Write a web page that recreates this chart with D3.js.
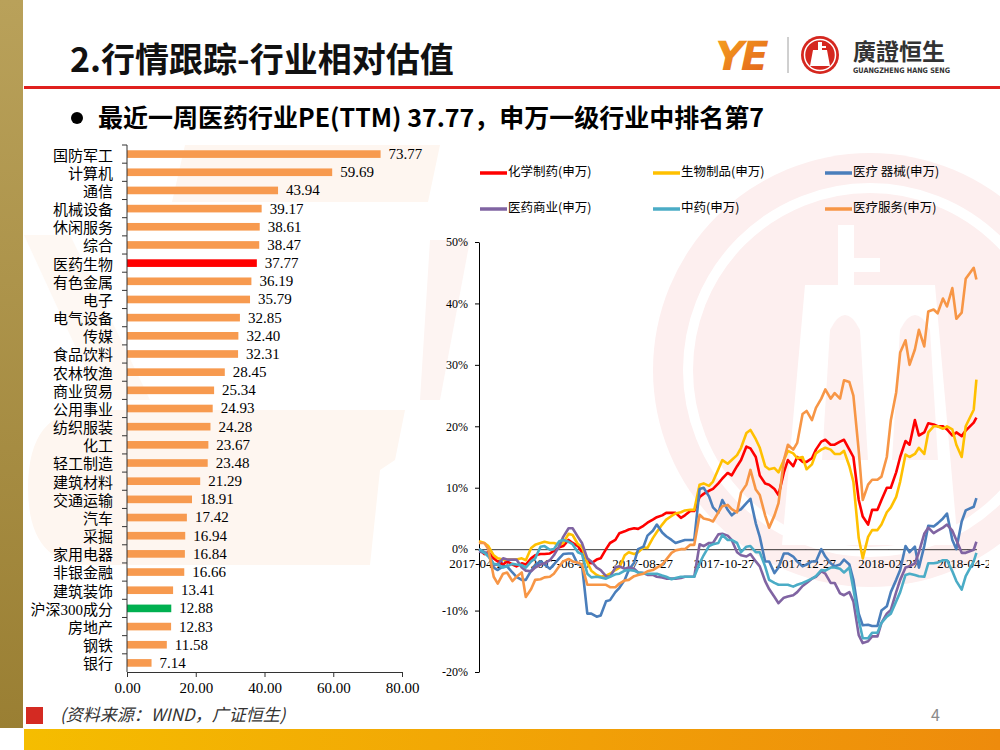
<!DOCTYPE html>
<html>
<head>
<meta charset="utf-8">
<script src="https://cdn.jsdelivr.net/npm/d3@7"></script>
<style>
  body { margin: 0; background: #fff; }
  svg { display: block; }
</style>
</head>
<body>
<div id="slide"></div>
<script>

// ---- bar chart data (PE TTM by industry) ----
var barCats = ["国防军工", "计算机", "通信", "机械设备", "休闲服务", "综合", "医药生物", "有色金属", "电子",
    "电气设备", "传媒", "食品饮料", "农林牧渔", "商业贸易", "公用事业", "纺织服装", "化工", "轻工制造",
    "建筑材料", "交通运输", "汽车", "采掘", "家用电器", "非银金融", "建筑装饰", "沪深300成分", "房地产", "钢铁", "银行"];
var barVals = [73.77, 59.69, 43.94, 39.17, 38.61, 38.47, 37.77, 36.19, 35.79,
    32.85, 32.40, 32.31, 28.45, 25.34, 24.93, 24.28, 23.67, 23.48,
    21.29, 18.91, 17.42, 16.94, 16.84, 16.66, 13.41, 12.88, 12.83, 11.58, 7.14];
var barTicks = [0, 20, 40, 60, 80];

// ---- line chart data (relative return, %) ----
var lineDates = ["2017-04-27", "2017-05-01", "2017-05-04", "2017-05-08", "2017-05-11", "2017-05-15", "2017-05-18",
    "2017-05-22", "2017-05-25", "2017-05-29", "2017-06-01", "2017-06-05", "2017-06-08", "2017-06-12", "2017-06-15",
    "2017-06-19", "2017-06-22", "2017-06-26", "2017-06-29", "2017-07-03", "2017-07-06", "2017-07-10", "2017-07-13",
    "2017-07-17", "2017-07-20", "2017-07-24", "2017-07-27", "2017-07-31", "2017-08-03", "2017-08-07", "2017-08-10",
    "2017-08-14", "2017-08-17", "2017-08-21", "2017-08-24", "2017-08-28", "2017-08-31", "2017-09-04", "2017-09-07",
    "2017-09-11", "2017-09-14", "2017-09-18", "2017-09-21", "2017-09-25", "2017-09-28", "2017-10-02", "2017-10-05",
    "2017-10-09", "2017-10-12", "2017-10-16", "2017-10-19", "2017-10-23", "2017-10-26", "2017-10-30", "2017-11-02",
    "2017-11-06", "2017-11-09", "2017-11-13", "2017-11-16", "2017-11-20", "2017-11-23", "2017-11-27", "2017-11-30",
    "2017-12-04", "2017-12-07", "2017-12-11", "2017-12-14", "2017-12-18", "2017-12-21", "2017-12-25", "2017-12-28",
    "2018-01-01", "2018-01-04", "2018-01-08", "2018-01-11", "2018-01-15", "2018-01-18", "2018-01-22", "2018-01-25",
    "2018-01-29", "2018-02-01", "2018-02-05", "2018-02-08", "2018-02-12", "2018-02-15", "2018-02-19", "2018-02-22",
    "2018-02-26", "2018-03-01", "2018-03-05", "2018-03-08", "2018-03-12", "2018-03-15", "2018-03-19", "2018-03-22",
    "2018-03-26", "2018-03-29", "2018-04-02", "2018-04-05", "2018-04-09", "2018-04-12", "2018-04-16", "2018-04-19",
    "2018-04-23", "2018-04-26", "2018-05-02", "2018-05-04"];

var chemPharma = [0, -0.8, -0.5, -1.5, -2.0, -2.5, -2.0, -2.5, -2.8, -2.3,
    -2.5, -1.5, -1.0, -0.8, -0.8, -0.7, -0.3, 0.3, 0.5, 1.5,
    1.0, 0.5, -0.5, -2.0, -2.3, -1.7, -1.5, 0.0, 1.0, 1.5,
    2.6, 2.9, 3.2, 3.4, 3.3, 3.8, 4.3, 4.8, 5.2, 5.5,
    5.9, 5.9, 5.9, 5.1, 5.5, 6.2, 6.2, 8.5, 9.0, 9.5,
    9.8, 10.7, 11.5, 12.4, 12.0, 13.5, 14.5, 16.7, 16.4, 15.0,
    12.0, 10.7, 10.5, 9.8, 8.8, 12.5, 14.5, 13.5, 15.0, 14.2,
    14.2, 14.8, 16.2, 17.5, 17.8, 17.0, 17.0, 17.5, 17.8, 16.2,
    15.0, 8.0, 5.3, 4.0, 6.4, 6.4, 8.0, 10.0, 10.0, 12.5,
    15.0, 17.6, 17.0, 21.0, 18.5, 19.0, 20.5, 20.3, 20.0, 20.0,
    19.5, 18.5, 19.0, 18.4, 19.3, 20.6, 21.4];
var bioProducts = [1.3, 1.0, 0.5, -1.0, -1.5, -1.7, -1.7, -1.7, -1.7, -1.5,
    -1.8, 0.2, 0.7, 1.0, 1.2, 1.0, 1.0, 0.7, 1.0, 2.5,
    2.3, 0.8, 0.4, -2.2, -3.5, -4.2, -4.5, -4.3, -4.0, -3.4,
    -3.0, -1.0, -0.5, -0.8, -0.5, 0.3, 0.2, 1.8, 2.8, 4.0,
    4.8, 5.4, 5.8, 6.0, 6.3, 6.4, 6.4, 10.5, 10.7, 10.3,
    11.0, 13.0, 14.5, 13.9, 14.5, 15.3, 16.5, 18.9, 19.4, 17.9,
    16.5, 13.5, 13.0, 13.2, 12.5, 14.5, 16.0, 15.6, 14.8, 15.0,
    13.0, 13.8, 15.6, 16.2, 16.5, 16.2, 15.5, 15.5, 16.0, 13.5,
    11.0, 1.8, -1.5, 2.0, 3.1, 3.1, 4.0, 6.0, 6.8, 8.5,
    11.0, 15.4, 15.0, 15.5, 16.5, 15.5, 19.0, 20.0, 20.0, 19.6,
    20.0, 19.5, 17.0, 15.0, 20.0, 22.7, 27.6];
var medDevices = [0, -0.5, -0.7, -3.0, -3.4, -2.8, -2.8, -3.8, -4.5, -5.0,
    -5.0, -3.5, -2.6, -2.0, -2.5, -3.2, -2.5, -1.5, -0.8, -0.7,
    -0.7, -2.5, -2.5, -10.5, -10.5, -11.0, -10.8, -8.5, -8.3, -7.0,
    -6.3, -5.0, -3.4, -2.2, 0.0, 0.4, 2.2, 3.0, 4.0, 2.7,
    2.1, 1.5, 1.0, 1.3, 1.5, 1.5, 1.5, 9.8, 10.0, 8.6,
    6.8, 5.9, 8.0, 6.4, 5.5, 6.2, 6.5, 7.5, 8.2, 4.2,
    2.0, -2.0, -2.0, -3.9, -3.0, -0.7, -0.7, -1.2, -2.0, -2.8,
    -2.5, -2.0, -2.0, 0.0, -1.2, -2.3, -2.8, -2.5, -1.7, -2.5,
    -5.0, -10.5, -12.4, -12.3, -12.5, -12.5, -10.0, -9.3, -7.0, -5.0,
    -3.4, 0.5, -0.5, 0.4, -3.0, 0.5, 3.8, 3.7, 4.2, 5.0,
    5.8, 1.5, 0.0, 4.5, 6.3, 6.9, 8.3];
var pharmaCommerce = [-0.4, -0.6, -0.7, -2.6, -2.5, -1.5, -1.7, -1.7, -1.7, -3.0,
    -3.5, -3.6, -3.0, -2.5, -2.3, -1.8, -1.0, 0.5, 2.0, 3.4,
    3.4, 2.0, 1.0, -1.5, -2.0, -3.0, -3.4, -4.4, -4.5, -3.0,
    -2.8, -3.2, -3.0, -3.2, -3.8, -3.9, -4.2, -4.2, -4.5, -4.6,
    -4.8, -4.8, -4.8, -4.7, -4.5, -4.5, -4.5, 0.8, 0.5, 1.0,
    1.0, 2.4, 2.5, 2.2, 1.5, -0.5, -1.0, -1.2, -0.8, -2.0,
    -2.8, -5.2, -6.5, -7.8, -8.8, -7.9, -7.7, -7.5, -7.0, -6.0,
    -5.5, -4.8, -4.5, -3.6, -4.0, -5.5, -5.5, -7.2, -7.5, -7.0,
    -8.5, -14.0, -15.3, -15.0, -14.2, -14.2, -12.0, -10.5, -9.9, -7.0,
    -5.0, -3.0, -2.8, -2.3, -0.5, 2.5, 3.5, 2.6, 3.0, 3.5,
    4.0, 3.0, 1.5, -0.6, -0.6, -0.1, 1.2];
var tcm = [0, -0.6, -1.2, -2.4, -2.5, -3.0, -2.8, -2.4, -2.5, -2.6,
    -3.0, -2.0, -1.5, 0.4, 0.5, -0.1, 0.0, 1.3, 1.5, 1.2,
    0.8, -0.5, -0.8, -4.0, -4.6, -4.5, -4.6, -4.8, -4.5, -4.1,
    -4.0, -3.5, -3.4, -3.5, -3.8, -3.9, -4.0, -4.0, -4.0, -4.3,
    -4.5, -4.9, -4.7, -4.5, -4.5, -4.5, -4.5, -2.3, -1.0, 0.5,
    0.8, 1.0, 2.3, 1.5, 1.5, 1.0, -0.5, 0.4, 0.5, -0.5,
    -0.5, -2.8, -5.0, -5.5, -5.8, -5.8, -5.8, -6.1, -5.8, -5.5,
    -5.2, -4.8, -4.4, -3.4, -3.5, -3.0, -3.0, -3.2, -3.8, -3.0,
    -6.5, -11.5, -14.5, -14.5, -13.6, -13.6, -12.0, -11.0, -10.5, -8.5,
    -7.0, -4.2, -4.0, -4.2, -4.4, -4.5, -2.3, -2.3, -2.2, -1.8,
    -1.8, -3.6, -5.2, -6.6, -4.4, -2.0, -0.6];
var medServices = [1.0, 1.0, 0.0, -4.5, -5.6, -4.0, -3.8, -5.2, -4.5, -3.8,
    -7.8, -6.5, -5.0, -4.9, -4.6, -4.5, -4.0, -2.8, -2.0, -1.6,
    -2.0, -2.2, -2.5, -5.8, -5.8, -5.8, -5.8, -5.8, -6.2, -6.2,
    -5.6, -5.1, -5.0, -4.4, -4.2, -4.0, -3.6, -3.4, -3.0, -2.5,
    -1.7, -0.6, -0.2, 0.0, 0.0, 0.7, 0.7, 5.6, 5.0, 4.8,
    4.5, 6.0, 7.0, 7.2, 6.5, 6.0, 9.2, 10.5, 12.9, 9.7,
    8.8, 5.5, 3.5, 5.5, 7.5, 14.5, 17.0, 16.2, 17.3, 22.0,
    22.5, 21.0, 23.0, 24.5, 26.0, 24.5, 25.4, 24.5, 27.5, 27.2,
    25.0, 16.0, 8.0, 10.5, 11.3, 11.3, 11.8, 15.0, 21.0, 25.5,
    32.0, 34.0, 30.0, 32.5, 35.7, 33.0, 38.7, 39.0, 38.4, 40.8,
    39.5, 42.5, 37.5, 38.5, 44.0, 45.8, 43.9];

var seriesNames = ["化学制药(申万)", "生物制品(申万)", "医疗 器械(申万)", "医药商业(申万)", "中药(申万)", "医疗服务(申万)"];
var seriesColors = ["#FF0000", "#FFC000", "#4A7EBB", "#8064A2", "#4BACC6", "#F79646"];
var seriesValues = [chemPharma, bioProducts, medDevices, pharmaCommerce, tcm, medServices];

var pctTicks = [-20, -10, 0, 10, 20, 30, 40, 50];
var dateTicks = ["2017-04-27", "2017-06-27", "2017-08-27", "2017-10-27", "2017-12-27", "2018-02-27", "2018-04-27"];

var serif = "'Liberation Serif', 'DejaVu Serif', serif";
var cjk = "'Noto Sans CJK SC', 'Noto Sans', sans-serif";
var serifCjk = "'Liberation Serif', 'Noto Sans CJK SC', serif";

var svg = d3.select("#slide").append("svg")
    .attr("width", 1000)
    .attr("height", 750);

var defs = svg.append("defs");

var stripGrad = defs.append("linearGradient").attr("id", "stripGrad")
    .attr("x1", 0).attr("y1", 0).attr("x2", 0).attr("y2", 1);
stripGrad.append("stop").attr("offset", "0%").attr("stop-color", "#B9A15A");
stripGrad.append("stop").attr("offset", "100%").attr("stop-color", "#9A7F33");

var footGrad = defs.append("linearGradient").attr("id", "footGrad")
    .attr("x1", 0).attr("y1", 0).attr("x2", 1).attr("y2", 0);
footGrad.append("stop").attr("offset", "0%").attr("stop-color", "#F5BD00");
footGrad.append("stop").attr("offset", "100%").attr("stop-color", "#EE8B0C");

var logoGrad = defs.append("linearGradient").attr("id", "logoGrad")
    .attr("x1", 0).attr("y1", 0).attr("x2", 1).attr("y2", 1);
logoGrad.append("stop").attr("offset", "0%").attr("stop-color", "#F6A21E");
logoGrad.append("stop").attr("offset", "100%").attr("stop-color", "#E2631B");

defs.append("clipPath").attr("id", "plotClip")
    .append("rect").attr("x", 0).attr("y", 0).attr("width", 989).attr("height", 750);

// ---- faint watermarks ----
var wm = svg.append("g");
wm.append("path")
    .attr("d", "M185,145 L440,145 L428,202 L172,202 Z")
    .attr("fill", "#FEF6F0");
wm.append("path")
    .attr("d", "M90,410 L405,410 L395,460 L380,470 L370,565 L90,565 Q28,565 28,488 Q28,410 90,410 Z")
    .attr("fill", "#FEF6F0");
wm.append("path")
    .attr("d", "M24,235 L70,235 L150,400 L100,400 Z")
    .attr("fill", "#FEF8F3");
wm.append("path")
    .attr("d", "M430,240 L470,240 L440,400 L420,400 Z")
    .attr("fill", "#FDF4F2");

wm.append("circle").attr("cx", 870).attr("cy", 370).attr("r", 217).attr("fill", "#FDEFEF");
wm.append("circle").attr("cx", 870).attr("cy", 370).attr("r", 182)
    .attr("fill", "none").attr("stroke", "#fff").attr("stroke-width", 10);
wm.append("path")
    .attr("d", "M838,225 L854,225 L854,258 L880,258 L880,272 L854,272 L854,285 L935,285 L958,545 L782,545 L805,285 L838,285 Z")
    .attr("fill", "#fff");
wm.append("path")
    .attr("d", "M830,330 Q845,300 860,330 L868,460 L822,460 Z")
    .attr("fill", "#FDF1F1");
wm.append("path")
    .attr("d", "M900,330 Q915,300 930,330 L938,460 L892,460 Z")
    .attr("fill", "#FDF1F1");

// ---- slide frame ----
svg.append("rect").attr("x", 0).attr("y", 0).attr("width", 23).attr("height", 728)
    .attr("fill", "url(#stripGrad)");
svg.append("rect").attr("x", 24).attr("y", 729).attr("width", 976).attr("height", 21)
    .attr("fill", "url(#footGrad)");
svg.append("rect").attr("x", 24).attr("y", 86).attr("width", 976).attr("height", 3)
    .attr("fill", "#E0201E");

svg.append("text")
    .attr("x", 70).attr("y", 72)
    .style("font-family", cjk).style("font-weight", 700).style("font-size", "34px")
    .attr("fill", "#111")
    .text("2.行情跟踪-行业相对估值");

svg.append("circle").attr("cx", 77).attr("cy", 118).attr("r", 6).attr("fill", "#000");
svg.append("text")
    .attr("x", 98).attr("y", 127)
    .style("font-family", cjk).style("font-weight", 700).style("font-size", "25px")
    .attr("fill", "#000")
    .text("最近一周医药行业PE(TTM) 37.77，申万一级行业中排名第7");

// logo
svg.append("text")
    .attr("x", 713).attr("y", 70)
    .attr("transform", "skewX(-12) translate(14,0)")
    .style("font-family", "'DejaVu Sans', sans-serif").style("font-weight", 700).style("font-size", "40px")
    .style("letter-spacing", "-3px")
    .attr("fill", "url(#logoGrad)")
    .text("YE");
svg.append("line").attr("x1", 788).attr("x2", 788).attr("y1", 37).attr("y2", 73)
    .attr("stroke", "#A0A0A0").attr("stroke-width", 1);
svg.append("circle").attr("cx", 820).attr("cy", 55).attr("r", 19).attr("fill", "#D5271F");
svg.append("circle").attr("cx", 820).attr("cy", 55).attr("r", 15.5)
    .attr("fill", "none").attr("stroke", "#fff").attr("stroke-width", 1.5);
svg.append("path")
    .attr("d", "M818,42 L822,42 L822,46 L826,46 L826,48 L822,48 L822,50 L827,50 L830,66 L810,66 L813,50 L818,50 Z")
    .attr("fill", "#fff");
svg.append("text")
    .attr("x", 853).attr("y", 60)
    .style("font-family", cjk).style("font-weight", 700).style("font-size", "23px")
    .attr("fill", "#333")
    .text("廣證恒生");
svg.append("text")
    .attr("x", 853).attr("y", 73)
    .attr("textLength", 97).attr("lengthAdjust", "spacingAndGlyphs")
    .style("font-family", "'DejaVu Sans', sans-serif").style("font-weight", 700).style("font-size", "7.5px")
    .attr("fill", "#333")
    .text("GUANGZHENG HANG SENG");

// footer
svg.append("rect").attr("x", 26).attr("y", 707).attr("width", 17).attr("height", 17).attr("fill", "#D42A22");
svg.append("text")
    .attr("x", 60).attr("y", 721)
    .style("font-family", cjk).style("font-style", "italic").style("font-size", "17px")
    .attr("fill", "#333")
    .text("(资料来源：WIND，广证恒生)");
svg.append("text")
    .attr("x", 931).attr("y", 721)
    .style("font-family", cjk).style("font-size", "16px")
    .attr("fill", "#8A8A8A")
    .text("4");

// ---- bar chart ----
var barX = d3.scaleLinear().domain([0, 80]).range([127, 402]);
var barY = d3.scaleBand().domain(barCats).range([145, 672])
    .paddingInner(0.58).paddingOuter(0.29);

var barG = svg.append("g");

barG.selectAll(".bar")
    .data(barCats)
    .enter()
    .append("rect")
    .attr("class", "bar")
    .attr("x", barX(0))
    .attr("y", function(d) { return barY(d); })
    .attr("width", function(d, i) { return barX(barVals[i]) - barX(0); })
    .attr("height", barY.bandwidth())
    .attr("fill", function(d) {
        if (d == "医药生物") return "#FF0000";
        if (d == "沪深300成分") return "#00B050";
        return "#F79A4F";
    });

barG.selectAll(".bar-value")
    .data(barCats)
    .enter()
    .append("text")
    .attr("class", "bar-value")
    .attr("x", function(d, i) { return barX(barVals[i]) + 8; })
    .attr("y", function(d) { return barY(d) + barY.bandwidth() / 2 + 1.5; })
    .attr("dominant-baseline", "middle")
    .style("font-family", serif).style("font-size", "15px")
    .attr("fill", "#000")
    .text(function(d, i) { return d3.format(".2f")(barVals[i]); });

barG.selectAll(".bar-label")
    .data(barCats)
    .enter()
    .append("text")
    .attr("class", "bar-label")
    .attr("x", 113)
    .attr("y", function(d) { return barY(d) + barY.bandwidth() / 2 + 3; })
    .attr("text-anchor", "end")
    .attr("dominant-baseline", "middle")
    .style("font-family", serifCjk).style("font-size", "15px")
    .attr("fill", "#000")
    .text(function(d) { return d; });

// category axis with ticks between bands
var step = barY.step();
barG.append("line")
    .attr("x1", barX(0)).attr("x2", barX(0))
    .attr("y1", 145).attr("y2", 672)
    .attr("stroke", "#333").attr("stroke-width", 1);
barG.selectAll(".band-tick")
    .data(d3.range(barCats.length))
    .enter()
    .append("line")
    .attr("class", "band-tick")
    .attr("x1", barX(0) - 5).attr("x2", barX(0))
    .attr("y1", function(i) { return 145 + i * step; })
    .attr("y2", function(i) { return 145 + i * step; })
    .attr("stroke", "#333");

var barAxis = barG.append("g")
    .attr("transform", "translate(0,672)")
    .call(d3.axisBottom(barX).tickValues(barTicks).tickFormat(d3.format(".2f"))
        .tickSize(5).tickSizeOuter(0).tickPadding(5));
barAxis.selectAll("path, line").attr("stroke", "#333");
barAxis.selectAll("text")
    .style("font-family", serif).style("font-size", "15px").attr("fill", "#000");

// ---- line chart ----
var parseDate = d3.timeParse("%Y-%m-%d");
var lineX = d3.scaleTime()
    .domain([parseDate("2017-04-27"), parseDate("2018-05-04")])
    .range([479, 976.4]);
var lineY = d3.scaleLinear().domain([-20, 50]).range([672, 242]);

var lineG = svg.append("g");

var yAxis = lineG.append("g")
    .attr("transform", "translate(479,0)")
    .call(d3.axisLeft(lineY).tickValues(pctTicks)
        .tickFormat(function(d) { return d + "%"; })
        .tickSize(4).tickSizeOuter(0).tickPadding(7));
yAxis.selectAll("path, line").attr("stroke", "#000");
yAxis.selectAll("text")
    .style("font-family", serif).style("font-size", "12px").attr("fill", "#000");

var xAxis = lineG.append("g")
    .attr("transform", "translate(0," + lineY(0) + ")")
    .attr("clip-path", "url(#plotClip)")
    .call(d3.axisBottom(lineX).tickValues(dateTicks.map(parseDate))
        .tickFormat(d3.timeFormat("%Y-%m-%d"))
        .tickSize(-4).tickSizeOuter(0).tickPadding(9.5));
xAxis.selectAll("path, line").attr("stroke", "#000");
xAxis.selectAll("text")
    .style("font-family", serif).style("font-size", "13px").attr("fill", "#000");

var line = d3.line()
    .x(function(d) { return lineX(d.date); })
    .y(function(d) { return lineY(d.v); });

seriesValues.forEach(function(vals, k) {
    var pts = vals.map(function(v, i) { return {date: parseDate(lineDates[i]), v: v}; });
    lineG.append("path")
        .datum(pts)
        .attr("d", line)
        .attr("fill", "none")
        .attr("stroke", seriesColors[k])
        .attr("stroke-width", 2.6)
        .attr("stroke-linejoin", "round");
});

// legend
var legX = [480, 653, 825],
    legY = [173, 209];
var legend = lineG.selectAll(".legend-item")
    .data(seriesNames)
    .enter()
    .append("g")
    .attr("class", "legend-item")
    .attr("transform", function(d, i) {
        return "translate(" + legX[i % 3] + "," + legY[Math.floor(i / 3)] + ")";
    });
legend.append("line")
    .attr("x1", 0).attr("x2", 27)
    .attr("stroke", function(d, i) { return seriesColors[i]; })
    .attr("stroke-width", 3.5);
legend.append("text")
    .attr("x", 28)
    .attr("dominant-baseline", "middle")
    .style("font-family", cjk).style("font-size", "12.5px")
    .attr("fill", "#000")
    .text(function(d) { return d; });

</script>
</body>
</html>
